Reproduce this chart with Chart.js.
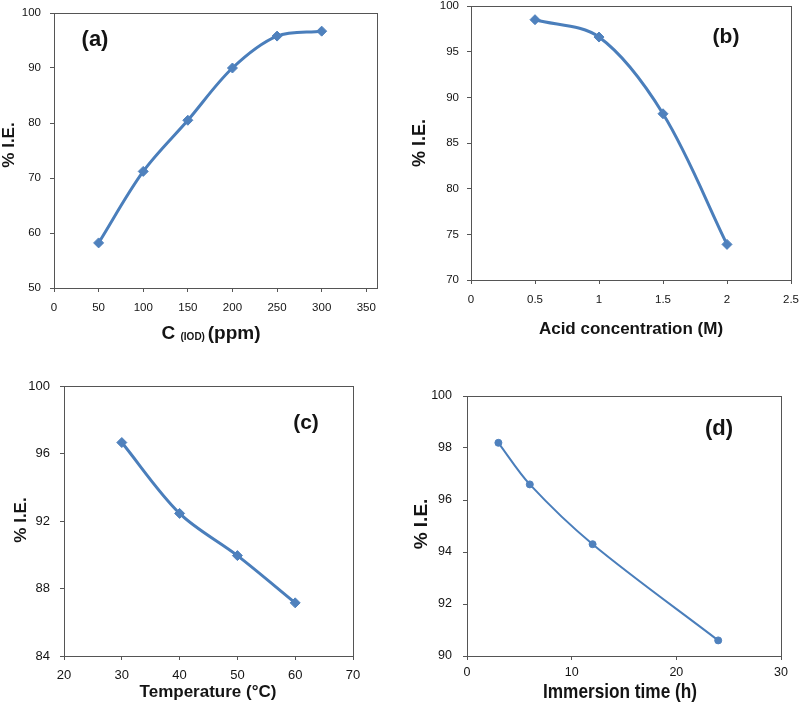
<!DOCTYPE html>
<html>
<head>
<meta charset="utf-8">
<title>% I.E. panels</title>
<script src="https://cdn.jsdelivr.net/npm/chart.js@4.4.1/dist/chart.umd.min.js"></script>
<style>
  html, body { margin: 0; padding: 0; background: #fff; }
  #wrap { position: relative; width: 800px; height: 710px; }
  .panel { position: absolute; width: 400px; height: 355px; }
  .panel canvas { display: block; }
</style>
</head>
<body>
<div id="wrap">
  <div class="panel" style="left:0;top:0"><canvas id="chart-a" width="400" height="355"></canvas></div>
  <div class="panel" style="left:400px;top:0"><canvas id="chart-b" width="400" height="355"></canvas></div>
  <div class="panel" style="left:0;top:355px"><canvas id="chart-c" width="400" height="355"></canvas></div>
  <div class="panel" style="left:400px;top:355px"><canvas id="chart-d" width="400" height="355"></canvas></div>
</div>
<script>
// (a) inhibitor concentration
const concPpm = [50, 100, 150, 200, 250, 300];
const ieConc = [58.2, 71.2, 80.5, 90.0, 95.8, 96.7];
const xTicksA = [0, 50, 100, 150, 200, 250, 300, 350];
const yTicksA = [50, 60, 70, 80, 90, 100];

// (b) acid concentration
const acidM = [0.5, 1, 1.5, 2];
const ieAcid = [98.5, 96.6, 88.2, 73.9];
const xTicksB = [0, 0.5, 1, 1.5, 2, 2.5];
const yTicksB = [70, 75, 80, 85, 90, 95, 100];

// (c) temperature
const tempC = [30, 40, 50, 60];
const ieTemp = [96.65, 92.45, 89.95, 87.15];
const xTicksC = [20, 30, 40, 50, 60, 70];
const yTicksC = [84, 88, 92, 96, 100];

// (d) immersion time
const timeH = [3, 6, 12, 24];
const ieTime = [98.2, 96.6, 94.3, 90.6];
const xTicksD = [0, 10, 20, 30];
const yTicksD = [90, 92, 94, 96, 98, 100];

const FONT = '"Liberation Sans", Arial, sans-serif';
const AXIS_COLOR = '#555';
const TEXT_COLOR = '#141414';
const LINE_BLUE = '#4a7ebb';
const MARK_BLUE = '#4f81bd';

// box round the plot area, like the Excel frame
const frame = {
    id: 'frame',
    beforeDatasetsDraw(chart) {
        const a = chart.chartArea;
        const ctx = chart.ctx;
        ctx.save();
        ctx.strokeStyle = AXIS_COLOR;
        ctx.lineWidth = 1;
        ctx.strokeRect(Math.round(a.left) + 0.5, Math.round(a.top) + 0.5,
            Math.round(a.right - a.left), Math.round(a.bottom - a.top));
        ctx.restore();
    }
};

// panel tag + axis titles, drawn as canvas text
const titles = {
    id: 'titles',
    afterDraw(chart, args, opts) {
        const ctx = chart.ctx;
        (opts.items || []).forEach(item => {
            ctx.save();
            ctx.fillStyle = TEXT_COLOR;
            ctx.textBaseline = item.baseline || 'middle';
            ctx.textAlign = 'left';
            ctx.translate(item.x, item.y);
            if (item.rotate) ctx.rotate(item.rotate);
            if (item.scaleX) ctx.scale(item.scaleX, 1);
            const parts = item.parts || [{ t: item.text, font: item.font }];
            let total = 0;
            parts.forEach(p => { ctx.font = p.font; total += ctx.measureText(p.t).width; });
            let x = -total / 2;
            parts.forEach(p => {
                ctx.font = p.font;
                ctx.fillText(p.t, x, p.dy || 0);
                x += ctx.measureText(p.t).width;
            });
            ctx.restore();
        });
    }
};

function fixedScale(size, horizontal, tickValues) {
    return {
        afterBuildTicks(s) {
            s.ticks = tickValues.map(v => ({ value: v }));
        },
        afterFit(s) {
            if (horizontal) s.height = size; else s.width = size;
            s.paddingLeft = s.paddingRight = s.paddingTop = s.paddingBottom = 0;
        }
    };
}

function makePanel(id, cfg) {
    const ctx = document.getElementById(id).getContext('2d');
    const points = cfg.xs.map((x, i) => ({ x: x, y: cfg.ys[i] }));
    const tickFont = { family: FONT, size: cfg.tickSize };
    const grid = { drawOnChartArea: false, drawTicks: true, tickLength: 4, color: AXIS_COLOR, lineWidth: 1 };
    const border = { display: true, color: AXIS_COLOR, width: 1 };

    return new Chart(ctx, {
        type: 'scatter',
        data: {
            datasets: [{
                data: points,
                showLine: true,
                tension: 0.33,
                borderColor: LINE_BLUE,
                borderWidth: cfg.lineWidth,
                pointStyle: cfg.pointStyle,
                pointRadius: cfg.pointRadius,
                pointBackgroundColor: MARK_BLUE,
                pointBorderColor: MARK_BLUE,
                pointBorderWidth: 1
            }]
        },
        options: {
            responsive: false,
            animation: false,
            devicePixelRatio: 1,
            layout: { padding: cfg.padding, autoPadding: false },
            plugins: {
                legend: { display: false },
                tooltip: { enabled: false },
                titles: { items: cfg.labels }
            },
            scales: {
                x: {
                    type: 'linear',
                    min: cfg.xMin,
                    max: cfg.xMax,
                    grid: grid,
                    border: border,
                    ticks: {
                        font: tickFont,
                        color: TEXT_COLOR,
                        padding: cfg.xPad,
                        maxRotation: 0,
                        autoSkip: false,
                        callback: v => String(v)
                    },
                    ...fixedScale(30, true, cfg.xTicks)
                },
                y: {
                    type: 'linear',
                    min: cfg.yTicks[0],
                    max: cfg.yTicks[cfg.yTicks.length - 1],
                    grid: grid,
                    border: border,
                    ticks: {
                        font: tickFont,
                        color: TEXT_COLOR,
                        padding: cfg.yPad,
                        autoSkip: false,
                        callback: v => String(v)
                    },
                    ...fixedScale(40, false, cfg.yTicks)
                }
            }
        },
        plugins: [frame, titles]
    });
}

const UP = -Math.PI / 2;
const bold = px => `bold ${px}px ${FONT}`;

makePanel('chart-a', {
    xs: concPpm, ys: ieConc, xTicks: xTicksA, yTicks: yTicksA,
    xMin: 0, xMax: 362,
    padding: { left: 14, top: 13, right: 23, bottom: 37 },
    tickSize: 11.5, xPad: 9, yPad: 9,
    lineWidth: 3, pointStyle: 'rectRot', pointRadius: 5,
    labels: [
        { text: '(a)', font: bold(22), x: 95, y: 40 },
        { x: 211, y: 339, baseline: 'alphabetic', parts: [
            { t: 'C ', font: bold(19) },
            { t: '(IOD) ', font: bold(10), dy: 1 },
            { t: '(ppm)', font: bold(19) }
        ] },
        { text: '% I.E.', font: bold(17), x: 9, y: 145, rotate: UP }
    ]
});

makePanel('chart-b', {
    xs: acidM, ys: ieAcid, xTicks: xTicksB, yTicks: yTicksB,
    xMin: 0, xMax: 2.5,
    padding: { left: 31, top: 6, right: 9, bottom: 45 },
    tickSize: 11.5, xPad: 9, yPad: 8,
    lineWidth: 3, pointStyle: 'rectRot', pointRadius: 5,
    labels: [
        { text: '(b)', font: bold(21), x: 326, y: 37 },
        { text: 'Acid concentration (M)', font: bold(17), x: 231, y: 329 },
        { text: '% I.E.', font: bold(18), x: 20, y: 143, rotate: UP }
    ]
});

makePanel('chart-c', {
    xs: tempC, ys: ieTemp, xTicks: xTicksC, yTicks: yTicksC,
    xMin: 20, xMax: 70,
    padding: { left: 24, top: 31, right: 47, bottom: 24 },
    tickSize: 13, xPad: 8, yPad: 10,
    lineWidth: 3, pointStyle: 'rectRot', pointRadius: 5,
    labels: [
        { text: '(c)', font: bold(21), x: 306, y: 68 },
        { text: 'Temperature (\u00b0C)', font: bold(17), x: 208, y: 337 },
        { text: '% I.E.', font: bold(17), x: 21, y: 165, rotate: UP }
    ]
});

makePanel('chart-d', {
    xs: timeH, ys: ieTime, xTicks: xTicksD, yTicks: yTicksD,
    xMin: 0, xMax: 30,
    padding: { left: 27, top: 41, right: 19, bottom: 24 },
    tickSize: 12.5, xPad: 5, yPad: 11,
    lineWidth: 2, pointStyle: 'circle', pointRadius: 3.5,
    labels: [
        { text: '(d)', font: bold(22), x: 319, y: 74 },
        { text: 'Immersion time (h)', font: bold(21), x: 220, y: 337, scaleX: 0.82 },
        { text: '% I.E.', font: bold(19), x: 22, y: 169, rotate: UP }
    ]
});
</script>
</body>
</html>
